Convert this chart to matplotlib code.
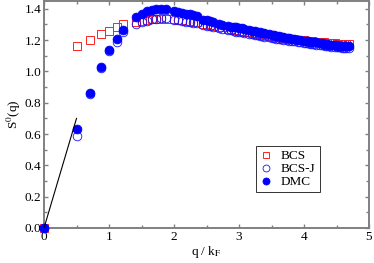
import matplotlib
matplotlib.use("Agg")
import matplotlib.pyplot as plt
from matplotlib.ticker import MultipleLocator

plt.rcParams["font.family"] = ["Liberation Serif", "DejaVu Serif"]
plt.rcParams["mathtext.fontset"] = "stix"

# q / k_F shells
Q = [0.00, 0.50, 0.71, 0.87, 1.00, 1.12, 1.22, 1.41, 1.50, 1.58, 1.66, 1.73, 1.80, 1.87,
     2.00, 2.06, 2.12, 2.18, 2.24, 2.29, 2.35, 2.45, 2.50, 2.55, 2.60, 2.69, 2.74,
     2.83, 2.87, 2.92, 2.96, 3.00, 3.04, 3.08, 3.16, 3.20, 3.24, 3.28, 3.32, 3.35,
     3.39, 3.46, 3.50, 3.54, 3.57, 3.61, 3.64, 3.67, 3.74, 3.77, 3.81, 3.84, 3.91,
     3.94, 4.00, 4.03, 4.06, 4.09, 4.12, 4.15, 4.18, 4.24, 4.27, 4.30, 4.33, 4.36,
     4.39, 4.42, 4.47, 4.50, 4.53, 4.55, 4.58, 4.61, 4.64, 4.69]

S_BCS = [0.0, 1.16, 1.20, 1.24, 1.26, 1.285, 1.30, 1.315, 1.322, 1.328, 1.333, 1.336,
         1.337, 1.337, 1.333, 1.33, 1.327, 1.324, 1.32, 1.317, 1.313, 1.305, 1.301,
         1.297, 1.293, 1.285, 1.281, 1.274, 1.271, 1.267, 1.264, 1.261, 1.258, 1.255,
         1.249, 1.246, 1.243, 1.240, 1.238, 1.236, 1.233, 1.228, 1.226, 1.224, 1.222,
         1.220, 1.218, 1.216, 1.212, 1.210, 1.208, 1.206, 1.203, 1.201, 1.198, 1.197,
         1.195, 1.194, 1.192, 1.191, 1.190, 1.187, 1.186, 1.185, 1.184, 1.183, 1.182,
         1.181, 1.179, 1.178, 1.177, 1.177, 1.176, 1.175, 1.175, 1.174]

S_BCSJ = [0.0, 0.585, 0.855, 1.02, 1.13, 1.19, 1.25, 1.30, 1.315, 1.325, 1.333, 1.338,
          1.34, 1.34, 1.33, 1.327, 1.323, 1.319, 1.315, 1.311, 1.307, 1.297, 1.293,
          1.289, 1.285, 1.276, 1.272, 1.265, 1.262, 1.258, 1.255, 1.252, 1.249, 1.246,
          1.240, 1.237, 1.234, 1.231, 1.228, 1.226, 1.223, 1.218, 1.215, 1.213, 1.210,
          1.208, 1.205, 1.203, 1.198, 1.196, 1.194, 1.192, 1.188, 1.186, 1.183, 1.181,
          1.179, 1.177, 1.176, 1.174, 1.172, 1.169, 1.167, 1.166, 1.164, 1.162, 1.161,
          1.159, 1.157, 1.155, 1.154, 1.153, 1.152, 1.150, 1.149, 1.147]

S_DMC = [0.0, 0.63, 0.86, 1.03, 1.14, 1.205, 1.265, 1.35, 1.37, 1.385, 1.393, 1.398,
         1.40, 1.40, 1.385, 1.38, 1.375, 1.37, 1.365, 1.36, 1.355, 1.33, 1.326, 1.322,
         1.318, 1.30, 1.297, 1.29, 1.287, 1.284, 1.281, 1.278, 1.275, 1.272, 1.262,
         1.259, 1.256, 1.253, 1.25, 1.247, 1.244, 1.238, 1.235, 1.232, 1.229, 1.226,
         1.223, 1.221, 1.215, 1.213, 1.210, 1.208, 1.203, 1.201, 1.197, 1.195, 1.193,
         1.191, 1.189, 1.187, 1.185, 1.182, 1.180, 1.178, 1.176, 1.174, 1.172, 1.170,
         1.168, 1.166, 1.165, 1.164, 1.163, 1.162, 1.161, 1.160]

# small-q linear slope line
LINE_Q = [0.0, 0.5]
LINE_S = [0.0, 0.70]

AX_COL = "#808080"

fig = plt.figure(figsize=(3.74, 2.63), dpi=100)
ax = fig.add_axes([44 / 374, 35 / 263, 325 / 374, 227 / 263])

ax.plot(Q, S_BCS, ls="none", marker="s", ms=5.6, mfc="none", mec="#ff2020",
        mew=0.7, label="BCS", zorder=2, clip_on=False)
ax.plot(Q, S_BCSJ, ls="none", marker="o", ms=6.2, mfc="none", mec="#1515ff",
        mew=0.6, label="BCS-J", zorder=3, clip_on=False)
ax.plot(Q, S_DMC, ls="none", marker="o", ms=6.4, mfc="#0000ff", mec="#0000ff",
        mew=0.5, label="DMC", zorder=4, clip_on=False)
ax.plot(LINE_Q, LINE_S, color="black", lw=0.8, zorder=5)

ax.set_xlim(0, 5)
ax.set_ylim(0, 1.45)
ax.xaxis.set_major_locator(MultipleLocator(1))
ax.xaxis.set_minor_locator(MultipleLocator(0.5))
ax.yaxis.set_major_locator(MultipleLocator(0.2))
ax.yaxis.set_minor_locator(MultipleLocator(0.1))
ax.yaxis.set_major_formatter(lambda v, p: f"{v:.1f}")

for s in ax.spines.values():
    s.set_color(AX_COL)
    s.set_linewidth(1.4)
    s.set_zorder(1)
ax.tick_params(which="both", direction="in", top=True, right=True,
               color=AX_COL, width=1.0, labelsize=9.5, labelcolor="black")
ax.tick_params(which="major", length=3.2, pad=2)
ax.tick_params(which="minor", length=2.4)

ax.set_xlabel(r"q / k$_{\rm F}$", fontsize=9.5, labelpad=1)
ax.set_ylabel(r"S$^{0}$(q)", fontsize=9.5, labelpad=1)

leg = ax.legend(loc="upper left", bbox_to_anchor=(0.652, 0.36), fontsize=9.5,
                frameon=True, fancybox=False, edgecolor="black",
                handlelength=1.0, handletextpad=0.6, borderpad=0.3,
                labelspacing=0.05, borderaxespad=0, markerscale=0.8)
leg.get_frame().set_linewidth(0.7)

fig.savefig("out.png", dpi=100)
